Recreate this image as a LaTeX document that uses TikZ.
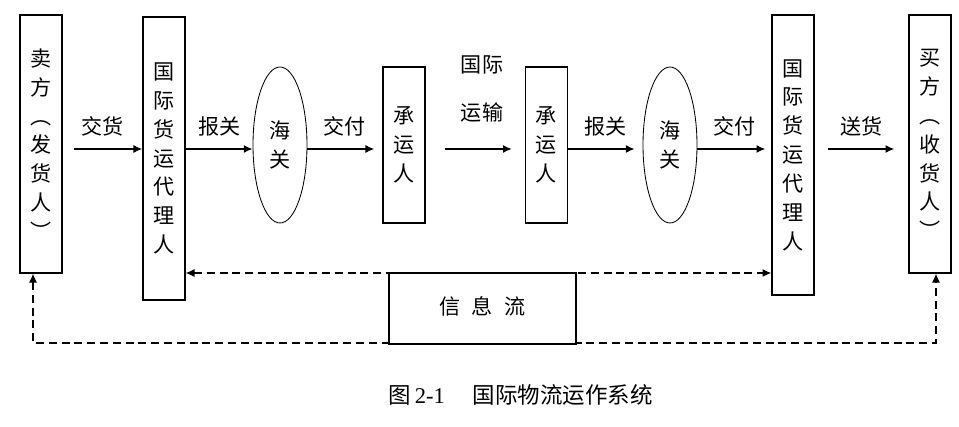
\documentclass[tikz,border=0pt]{standalone}
\usepackage{fontspec}
\usepackage{tikz}
\usetikzlibrary{arrows.meta,shapes.geometric}
\newfontfamily\cjk{Noto Sans CJK SC}
\newfontfamily\latin{Liberation Serif}

\begin{document}
\begin{tikzpicture}[
  every node/.style={font=\cjk\fontsize{15}{20.5}\selectfont},
  vbox/.style={draw,line width=1pt,minimum width=1.05cm,inner sep=0pt,align=center},
  oval/.style={draw,ellipse,line width=0.6pt,minimum width=1.35cm,minimum height=3.9cm,inner sep=0pt,align=center},
  flow/.style={-{Latex[length=2.2mm,width=2mm]},line width=1pt},
  info/.style={{Latex[length=2.2mm,width=2mm]}-{Latex[length=2.2mm,width=2mm]},line width=0.8pt,dash pattern=on 0.2cm off 0.12cm}
]

% Frame
\useasboundingbox (0,0) rectangle (23.975,10.675);

% Parties, agents, customs and carriers
\node[vbox,minimum height=6.45cm] (seller) at (1.025,7.075) {卖\\方\\︵\\发\\货\\人\\︶};
\node[vbox,minimum height=7.075cm] (agentA) at (4.1,6.7125) {国\\际\\货\\运\\代\\理\\人};
\node[oval] (customsA) at (7.0,7.05) {海\\关};
\node[vbox,minimum height=3.9cm] (carrierA) at (10.1,7.05) {承\\运\\人};
\node[vbox,minimum height=3.9cm] (carrierB) at (13.6625,7.05) {承\\运\\人};
\node[oval] (customsB) at (16.75,7.05) {海\\关};
\node[vbox,minimum height=7cm] (agentB) at (19.825,6.8) {国\\际\\货\\运\\代\\理\\人};
\node[vbox,minimum height=6.45cm] (buyer) at (23.25,7.075) {买\\方\\︵\\收\\货\\人\\︶};

% Goods flow
\coordinate (goods) at (0,6.95);
\draw[flow,shorten <=0.275cm] (seller.east |- goods) -- node[above=0.18cm] {交货} (agentA.west |- goods);
\draw[flow] (agentA.east |- goods) -- node[above=0.18cm] {报关} (customsA.west |- goods);
\draw[flow,shorten >=0.2cm] (customsA.east |- goods) -- node[above=0.18cm] {交付} (carrierA.west |- goods);
\draw[flow,shorten <=0.475cm,shorten >=0.325cm] (carrierA.east |- goods) -- (carrierB.west |- goods);
\node[font=\cjk\fontsize{15}{34}\selectfont,align=center] (sea) at (12.05,8.45) {国际\\运输};
\draw[flow,shorten >=0.2cm] (carrierB.east |- goods) -- node[above=0.18cm] {报关} (customsB.west |- goods);
\draw[flow,shorten >=0.15cm] (customsB.east |- goods) -- node[above=0.18cm] {交付} (agentB.west |- goods);
\draw[flow,shorten <=0.325cm,shorten >=0.35cm] (agentB.east |- goods) -- node[above=0.18cm] {送货} (buyer.west |- goods);

% Information flow
\coordinate (infoline) at (0,3.85);
\coordinate (sellerfoot) at (0.825,2.1);
\coordinate (buyerfoot) at (23.4,2.1);
\draw[info] (agentA.east |- infoline) -- (agentB.west |- infoline);
\draw[info] (seller.south -| sellerfoot) -- (sellerfoot) -- (buyerfoot) -- (buyer.south -| buyerfoot);
\node[draw,fill=white,line width=1pt,minimum width=4.675cm,minimum height=1.775cm] (infobox) at (12.0625,2.9625) {\raisebox{0.16cm}{信\hspace{8pt}息\hspace{8pt}流}};

% Caption
\node[font=\cjk\fontsize{16}{19}\selectfont] (caption) at (13.01,0.8) {图\hspace{3pt}{\latin 2-1}\hspace{0.7cm}国际物流运作系统};

\end{tikzpicture}
\end{document}
